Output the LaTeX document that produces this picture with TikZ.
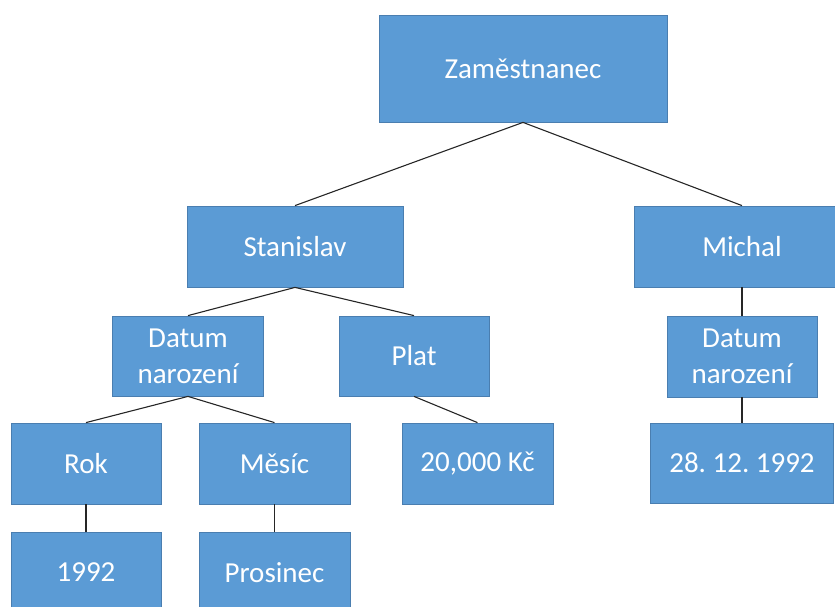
\documentclass[tikz,border=0pt]{standalone}
\usepackage{fontspec}
\setmainfont{Carlito}
\frenchspacing
\begin{document}
\begin{tikzpicture}[x=1pt,y=-1pt,
  box/.style={draw=boxedge, fill=boxfill, line width=0.8pt, text=white,
    inner sep=0pt, align=center, font=\fontsize{29}{36}\selectfont},
  link/.style={draw=black!85, line width=1.1pt}]
\definecolor{boxfill}{HTML}{5B9BD5}
\definecolor{boxedge}{HTML}{4A7EB0}
\useasboundingbox (0,0) rectangle (835,607);
\clip (0,0) rectangle (835,607);
% top level
\node[box, minimum width=288pt, minimum height=107pt] (zam) at (523,68.5) {Zaměstnanec};
% employees
\node[box, minimum width=216pt, minimum height=81pt] (stan) at (295,246.5) {Stanislav};
\node[box, minimum width=216pt, minimum height=81pt] (mich) at (742,246.5) {Michal};
% attributes
\node[box, minimum width=151pt, minimum height=80pt] (datl) at (188,356) {Datum\\narození};
\node[box, minimum width=150pt, minimum height=80pt] (plat) at (414,356) {Plat};
\node[box, minimum width=150pt, minimum height=81pt] (datr) at (742,356.5) {Datum\\narození};
% values
\node[box, minimum width=150pt, minimum height=81pt] (rok) at (86,463.5) {Rok};
\node[box, minimum width=151pt, minimum height=81pt] (mes) at (274.5,463.5) {Měsíc};
\node[box, minimum width=151pt, minimum height=81pt] (kc) at (477.5,463.5) {20,000 Kč};
\node[box, minimum width=183pt, minimum height=80pt] (date) at (742,463) {28. 12. 1992};
\node[box, minimum width=150pt, minimum height=81pt] (rokv) at (86,572.5) {1992};
\node[box, minimum width=151pt, minimum height=81pt] (mesv) at (274.5,572.5) {Prosinec};
% connectors
\draw[link] (zam.south) -- (stan.north);
\draw[link] (zam.south) -- (mich.north);
\draw[link] (stan.south) -- (datl.north);
\draw[link] (stan.south) -- (plat.north);
\draw[link] (mich.south) -- (datr.north);
\draw[link] (datl.south) -- (rok.north);
\draw[link] (datl.south) -- (mes.north);
\draw[link] (plat.south) -- (kc.north);
\draw[link] (datr.south) -- (date.north);
\draw[link] (rok.south) -- (rokv.north);
\draw[link] (mes.south) -- (mesv.north);
\end{tikzpicture}
\end{document}
